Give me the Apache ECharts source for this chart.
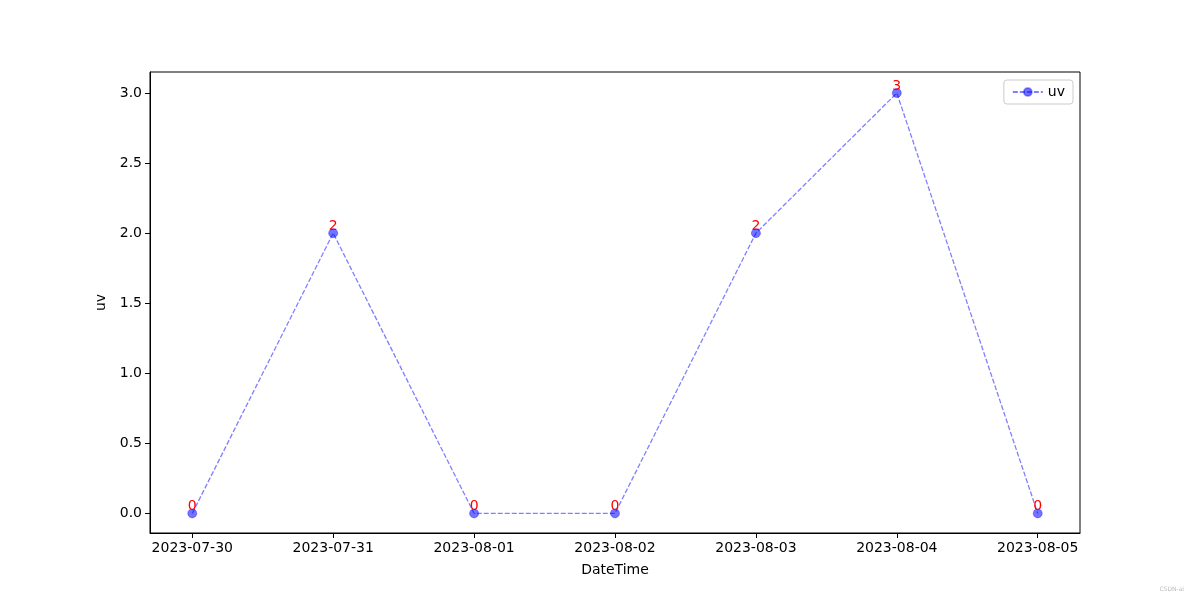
<!DOCTYPE html>
<html><head><meta charset="utf-8">
<script src="https://cdn.jsdelivr.net/npm/echarts@6/dist/echarts.min.js"></script>
<style>html,body{margin:0;padding:0;background:#fff}#c{width:1200px;height:600px}</style>
</head><body><div id="c"></div>
<script>
const categories = ['2023-07-30','2023-07-31','2023-08-01','2023-08-02','2023-08-03','2023-08-04','2023-08-05'];
const uvValues = [0, 2, 0, 0, 2, 3, 0];
const yTicks = [0, 0.5, 1.0, 1.5, 2.0, 2.5, 3.0];

const font = 'DejaVu Sans';
const chart = echarts.init(document.getElementById('c'));
const xIdx = categories.map((_, i) => i);
chart.setOption({
  animation: false,
  textStyle: {fontFamily: font},
  grid: {left: 150, right: 120, top: 72, bottom: 67, show: true, borderColor: '#000', borderWidth: 1},
  legend: {
    right: 127, top: 80, orient: 'vertical',
    borderColor: '#cccccc', borderWidth: 1, borderRadius: 3,
    padding: [5, 8, 5, 8],
    itemWidth: 30, itemHeight: 10, itemGap: 6,
    textStyle: {fontFamily: font, fontSize: 14, color: '#000'},
    data: [{name: 'uv'}]
  },
  xAxis: {
    type: 'value', min: -0.3, max: 6.3,
    name: 'DateTime', nameLocation: 'middle', nameGap: 30,
    nameTextStyle: {fontFamily: font, fontSize: 14, color: '#000'},
    axisLine: {show: true, onZero: false, lineStyle: {color: '#000', width: 1}},
    axisTick: {show: true, length: 5, lineStyle: {color: '#000'}, customValues: xIdx},
    axisLabel: {customValues: xIdx, color: '#000', fontSize: 14, fontFamily: font, margin: 8,
      formatter: v => categories[Math.round(v)] || ''},
    splitLine: {show: false}
  },
  yAxis: {
    type: 'value', min: -0.14, max: 3.15,
    name: 'uv', nameLocation: 'middle', nameGap: 38,
    nameTextStyle: {fontFamily: font, fontSize: 14, color: '#000'},
    axisLine: {show: true, onZero: false, lineStyle: {color: '#000', width: 1}},
    axisTick: {show: true, length: 5, lineStyle: {color: '#000'}, customValues: yTicks},
    axisLabel: {customValues: yTicks, color: '#000', fontSize: 14, fontFamily: font, margin: 8,
      formatter: v => v.toFixed(1)},
    splitLine: {show: false}
  },
  series: [{
    name: 'uv', type: 'line',
    data: uvValues.map((v, i) => [i, v]),
    symbol: 'circle', symbolSize: 9,
    lineStyle: {color: 'rgba(0,0,255,0.5)', width: 1.3, type: [5, 2]},
    itemStyle: {color: 'rgba(0,0,255,0.55)', borderColor: 'rgba(0,0,255,0.35)', borderWidth: 1},
    label: {show: true, position: 'top', distance: -5, color: '#ff0000', fontSize: 14, fontFamily: font,
      formatter: p => String(p.value[1])},
    emphasis: {disabled: true}
  }],
  graphic: [{
    type: 'text', right: 16, bottom: 8,
    style: {text: 'CSDN-ai', fill: '#bbbbbb', fontSize: 6, fontFamily: font}
  }]
});
</script></body></html>
